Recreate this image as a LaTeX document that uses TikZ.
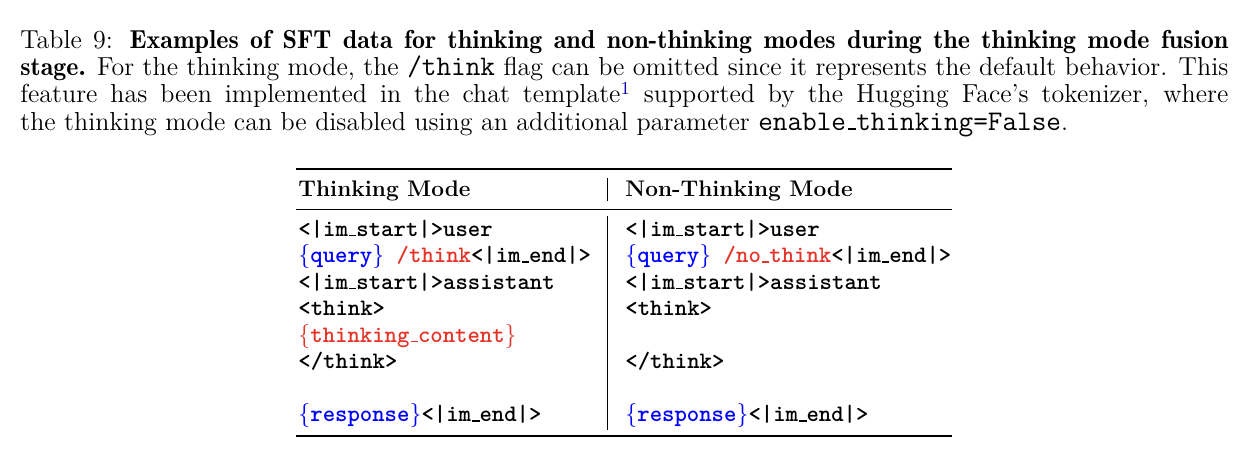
\documentclass[tikz,border=0pt]{standalone}
\usepackage{xcolor}
\definecolor{holeblue}{RGB}{0,0,255}
\definecolor{holered}{RGB}{228,52,40}
\definecolor{notelink}{RGB}{0,0,170}
\newcommand{\lowbar}{\leavevmode\kern.06em\vbox{\hrule width.3em height.07em}}
\newcommand{\slot}[2]{\textcolor{#1}{$\{$\texttt{#2}$\}$}}
\newcommand{\captt}[1]{{\fontsize{14.2}{13.6}\selectfont\ttfamily #1}}
\newcommand{\capbf}[1]{{\fontseries{b}\selectfont #1}}
\begin{document}
\begin{tikzpicture}[x=0.5pt, y=-0.5pt,
    capnode/.style={anchor=base west, inner sep=0pt, text width=604pt, align=justify,
        font=\fontsize{13}{13.6}\selectfont},
    headnode/.style={anchor=base west, inner sep=0pt, font=\fontsize{11.3}{14}\selectfont\bfseries},
    codenode/.style={anchor=base west, inner sep=0pt, align=left,
        font=\fontsize{11.8}{13.23}\selectfont\ttfamily\bfseries},
    heavyrule/.style={line width=1pt},
    lightrule/.style={line width=0.6pt},
    colrule/.style={line width=0.5pt}
]
    \useasboundingbox (0,0) rectangle (1250,470);
    % Caption
    \node[capnode] (caption) at (20,48.5) {Table 9: \capbf{Examples of SFT data for thinking and non-thinking modes during the thinking mode fusion\linebreak stage.} For the thinking mode, the \captt{/think} flag can be omitted since it represents the default behavior. This\linebreak feature has been implemented in the chat template\textsuperscript{\textcolor{notelink}{1}} supported by the Hugging Face's tokenizer, where\linebreak the thinking mode can be disabled using an additional parameter \captt{enable\lowbar thinking=False}.};

    % Rules
    \draw[heavyrule] (296,169.5) -- (952,169.5);
    \draw[lightrule] (296,209.5) -- (952,209.5);
    \draw[heavyrule] (296,436) -- (952,436);
    \draw[colrule] (607,178) -- (607,201);
    \draw[colrule] (607,216) -- (607,430);

    % Column heads
    \node[headnode] (thinkhead) at (298,197) {Thinking Mode};
    \node[headnode] (nothinkhead) at (625,197) {Non-Thinking Mode};

    % Templates (anchored on the last line)
    \node[codenode] (thinkcode) at (298,421.7) {<|im\lowbar start|>user\\
        \slot{holeblue}{query} \textcolor{holered}{/think}<|im\lowbar end|>\\
        <|im\lowbar start|>assistant\\
        <think>\\
        \slot{holered}{thinking\lowbar content}\\
        </think>\\
        \mbox{}\\
        \slot{holeblue}{response}<|im\lowbar end|>};
    \node[codenode] (nothinkcode) at (625,421.7) {<|im\lowbar start|>user\\
        \slot{holeblue}{query} \textcolor{holered}{/no\lowbar think}<|im\lowbar end|>\\
        <|im\lowbar start|>assistant\\
        <think>\\
        \mbox{}\\
        </think>\\
        \mbox{}\\
        \slot{holeblue}{response}<|im\lowbar end|>};
\end{tikzpicture}
\end{document}
